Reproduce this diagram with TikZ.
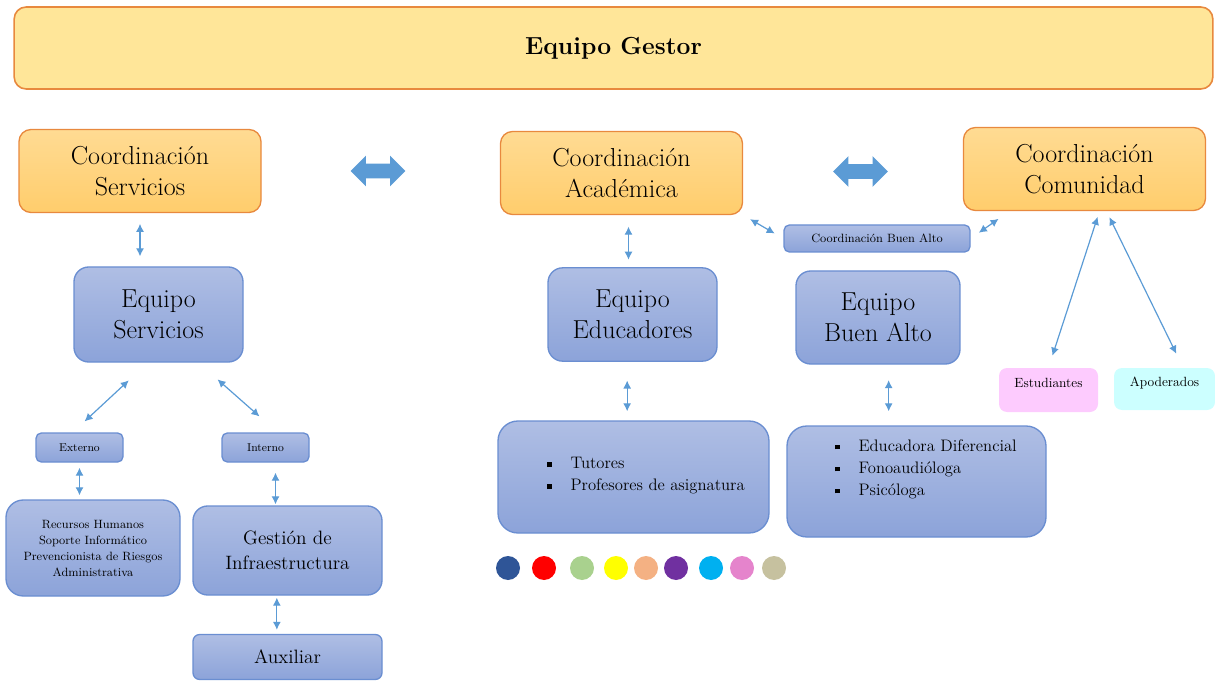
\documentclass[tikz,border=0pt]{standalone}
\usepackage{fontspec}
\usetikzlibrary{arrows.meta,shapes.arrows}

\definecolor{bordeNar}{HTML}{E8893E}
\definecolor{narArriba}{HTML}{FFDB93}
\definecolor{narAbajo}{HTML}{FFCD6C}
\definecolor{fondoGestor}{HTML}{FFE699}
\definecolor{bordeAz}{HTML}{6A8ED1}
\definecolor{azArriba}{HTML}{AFBEE4}
\definecolor{azAbajo}{HTML}{8CA3D9}
\definecolor{flecha}{HTML}{5B9BD5}
\definecolor{rosa}{HTML}{FDCBFE}
\definecolor{celeste}{HTML}{CCFFFF}
\definecolor{p1}{HTML}{2F5597}
\definecolor{p2}{HTML}{FF0000}
\definecolor{p3}{HTML}{A9D18E}
\definecolor{p4}{HTML}{FFFF00}
\definecolor{p5}{HTML}{F4B183}
\definecolor{p6}{HTML}{7030A0}
\definecolor{p7}{HTML}{00B0F0}
\definecolor{p8}{HTML}{E584CC}
\definecolor{p9}{HTML}{C6C19F}

\newcommand{\cuadro}{\rule[0.25ex]{3.5pt}{3.5pt}\hspace{14pt}}

\begin{document}
\begin{tikzpicture}[x=0.75pt,y=-0.75pt]
        \useasboundingbox (0,0) rectangle (1215,681);

        \node[draw=bordeNar, line width=1.2pt, fill=fondoGestor, rounded corners=9pt,
              minimum width=899pt, minimum height=61.5pt,
              font=\fontsize{18.5}{21}\selectfont\bfseries] (0) at (613.5,48) {Equipo Gestor};

        \begin{scope}[every node/.style={draw=bordeNar, line width=1pt, top color=narArriba, bottom color=narAbajo,
                      rounded corners=9pt, minimum width=181.5pt, minimum height=62.25pt, align=center,
                      font=\fontsize{19.5}{23}\selectfont}]
          \node (1) at (140,171)    {Coordinación\\Servicios};
          \node (2) at (621.5,173)  {Coordinación\\Académica};
          \node (3) at (1084.5,169) {Coordinación\\Comunidad};
        \end{scope}

        \begin{scope}[every node/.style={draw=bordeAz, line width=1pt, top color=azArriba, bottom color=azAbajo,
                      align=center, rounded corners=11pt, font=\fontsize{19.5}{23}\selectfont}]
          \node[minimum width=126.75pt, minimum height=71.25pt] (4) at (158.5,314.5) {Equipo\\Servicios};
          \node[minimum width=126.75pt, minimum height=70pt]    (5) at (632.5,314.5) {Equipo\\Educadores};
          \node[minimum width=123pt, minimum height=69.75pt]    (6) at (878,317.5)   {Equipo\\Buen Alto};
          \node[minimum width=65.25pt, minimum height=21.75pt, rounded corners=4pt, font=\fontsize{8.5}{10}\selectfont] (7) at (79.5,447.5) {Externo};
          \node[minimum width=65.25pt, minimum height=21.75pt, rounded corners=4pt, font=\fontsize{8.5}{10}\selectfont] (8) at (265.5,447.5) {Interno};
          \node[minimum width=130.5pt, minimum height=72pt, rounded corners=13pt, font=\fontsize{9}{12}\selectfont] (9) at (93,548)
               {Recursos Humanos\\Soporte Informático\\Prevencionista de Riesgos\\Administrativa};
          \node[minimum width=141.75pt, minimum height=66.75pt, font=\fontsize{14.5}{19}\selectfont] (10) at (287.5,550.5) {Gestión de\\Infraestructura};
          \node[minimum width=141.75pt, minimum height=33.75pt, rounded corners=5pt, font=\fontsize{14.5}{19}\selectfont] (11) at (287.5,657) {Auxiliar};
          \node[minimum width=203.25pt, minimum height=84pt, rounded corners=15pt] (12) at (633.5,477) {};
          \node[minimum width=194.25pt, minimum height=83.25pt, rounded corners=15pt] (13) at (916.5,481.5) {};
          \node[minimum width=139.5pt, minimum height=20.25pt, rounded corners=4pt, font=\fontsize{9}{11}\selectfont] (14) at (877,238.5) {Coordinación Buen Alto};
        \end{scope}

        \begin{scope}[every node/.style={rounded corners=6pt, font=\fontsize{10}{12}\selectfont,
                      text height=8pt, text depth=12pt}]
          \node[fill=rosa, minimum width=74.25pt, minimum height=33pt]       (15) at (1048.5,390) {Estudiantes};
          \node[fill=celeste, minimum width=75.75pt, minimum height=31.5pt]  (16) at (1164.5,389) {Apoderados};
        \end{scope}

        % flechas gruesas entre coordinaciones
        \begin{scope}[every node/.style={double arrow, fill=flecha, minimum height=41pt, inner sep=5.25pt,
                      double arrow head extend=6pt}]
          \node (17) at (378,171) {};
          \node (18) at (860.5,171.5) {};
        \end{scope}

        \begin{scope}[every node/.style={align=left, font=\fontsize{12.5}{16.5}\selectfont}]
          \node (19) at (646,476) {\cuadro Tutores\\\cuadro Profesores de asignatura};
          \node (20) at (926,469) {\cuadro Educadora Diferencial\\\cuadro Fonoaudióloga\\\cuadro Psicóloga};
        \end{scope}

        \foreach \n/\x/\c in {21/508/p1,22/544/p2,23/582/p3,24/616/p4,25/646/p5,26/676/p6,27/711/p7,28/742/p8,29/774/p9}
          \node[circle, fill=\c, minimum size=18pt, inner sep=0pt] (\n) at (\x,568) {};

        \begin{scope}[>={Latex[length=6pt,width=6pt]},
                      every edge/.style={draw=flecha, line width=0.9pt, <->}]
          \path (1.south) edge[shorten <=8pt, shorten >=7.5pt] (1.south |- 4.north);
          \path ([xshift=-8pt]4.south) edge[shorten <=19.5pt, shorten >=12pt] ([xshift=-5pt]7.north);
          \path ([xshift=30pt]4.south) edge[shorten <=19pt, shorten >=18pt] ([xshift=9pt]8.north);
          \path (7.south) edge[shorten <=3.75pt, shorten >=3pt] (7.south |- 9.north);
          \path ([xshift=-9pt]10.north) edge[shorten <=0.75pt, shorten >=7.5pt] ([xshift=-9pt]10.north |- 8.south);
          \path ([xshift=-8pt]10.south) edge[shorten <=1.5pt, shorten >=3pt] ([xshift=-8pt]10.south |- 11.north);
          \path ([xshift=-3pt]5.north) edge[shorten <=5.6pt, shorten >=8.6pt] ([xshift=-3pt]5.north |- 2.south);
          \path ([xshift=-4pt]5.south) edge[shorten <=14pt, shorten >=6.75pt] ([xshift=-4pt]5.south |- 12.north);
          \path (2.south east) edge[shorten <=6pt, shorten >=7.5pt] (14.west);
          \path (14.east) edge[shorten <=7.5pt, shorten >=10pt] ([xshift=35pt]3.south west);
          \path ([xshift=11.25pt]3.south) edge[shorten <=4.5pt, shorten >=9.5pt] (15.north);
          \path ([xshift=16.5pt]3.south) edge[shorten <=5pt, shorten >=11.7pt] ([xshift=14pt]16.north);
          \path ([xshift=8pt]6.south) edge[shorten <=11.6pt, shorten >=10.5pt] ([xshift=8pt]6.south |- 13.north);
        \end{scope}

      \end{tikzpicture}
\end{document}
